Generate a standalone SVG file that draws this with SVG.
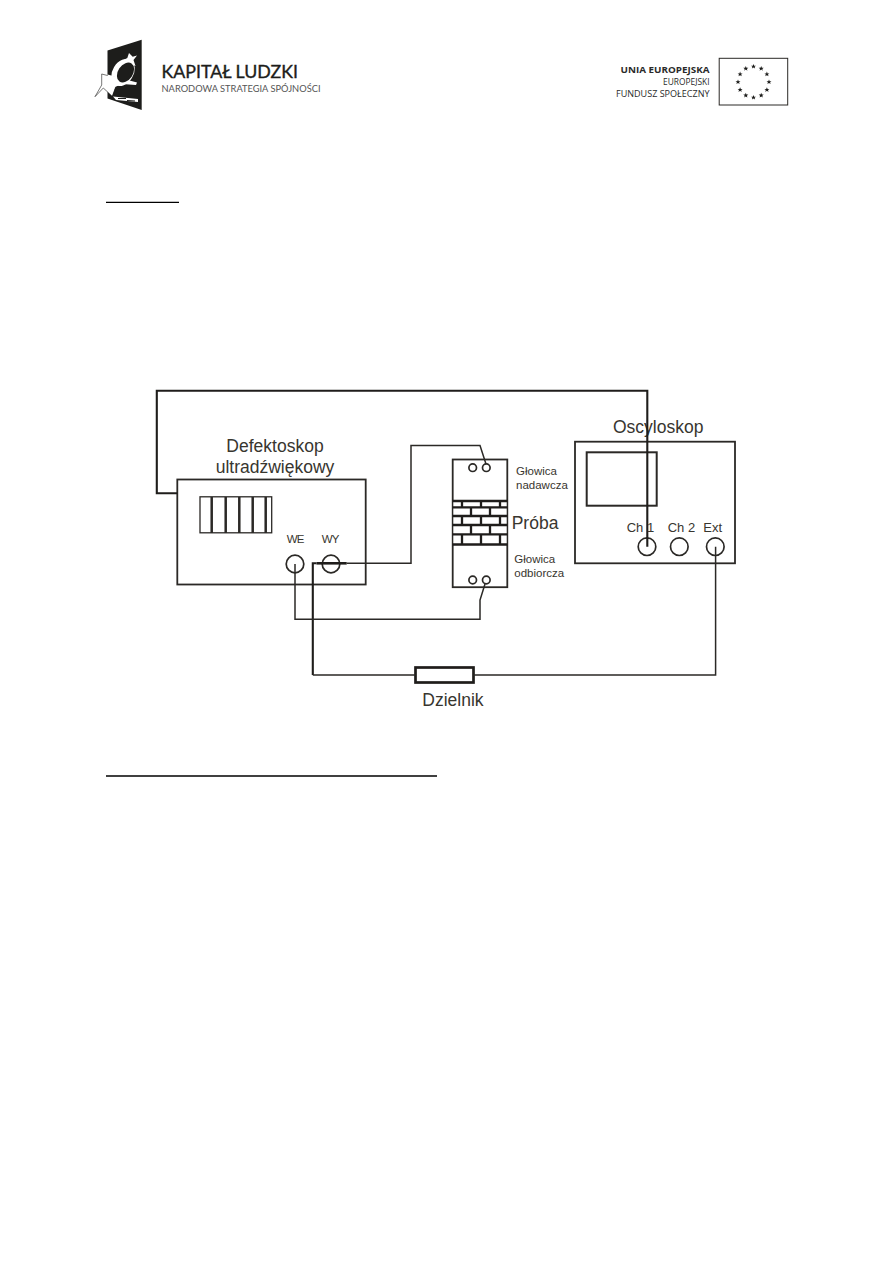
<svg xmlns="http://www.w3.org/2000/svg" width="893" height="1263" viewBox="0 0 893 1263">
  <style>
    .box { fill: #fff; stroke: #2b2926; stroke-width: 1.8; }
    .knob { fill: #fff; stroke: #2b2926; stroke-width: 1.7; }
    .wire { fill: none; stroke: #2b2926; stroke-width: 1.5; stroke-linejoin: miter; }
    .wire-bold { fill: none; stroke: #1f1d1b; stroke-width: 2.1; }
    .rule { stroke: #000; stroke-width: 1.3; }
    .brick { fill: none; stroke: #1f1d1b; stroke-width: 2.3; }
    text { font-family: "Liberation Sans", Arial, sans-serif; fill: #38362f; }
    .big { font-size: 17.5px; }
    .mid { font-size: 13px; }
    .small { font-size: 11.5px; }
    .port { font-size: 11.5px; letter-spacing: -0.8px; }
    .brand { font-family: Lato, "Open Sans", sans-serif; fill: #1d1d1b; }
    .eu { font-family: "Open Sans", "Noto Sans", sans-serif; fill: #2a2a2a; font-size: 8.4px; text-anchor: end; }
  </style>
  <defs>
    <polygon id="star" points="0,-2.6 0.7,-0.8 2.5,-0.8 1.1,0.3 1.6,2.1 0,1 -1.6,2.1 -1.1,0.3 -2.5,-0.8 -0.7,-0.8" fill="#1d1d1b"/>
  </defs>
  <rect width="893" height="1263" fill="#fff"/>

  <!-- programme emblem, top left -->
  <g id="logo-kapital">
    <polygon points="107.5,50.5 141.7,39.7 141.7,110 107.5,98.5" fill="#1d1d1b"/>
    <ellipse cx="123" cy="72.5" rx="10.5" ry="14.5" transform="rotate(32 123 72.5)" fill="#fff"/>
    <polygon points="101.7,74 113.3,77 123.3,80 116,85.5 112,96 103.3,88 95,96.7 101.7,85" fill="#fff" stroke="#1d1d1b" stroke-width="0.6"/>
    <polygon points="107.6,74.5 124,79 137,82.5 136,85 122,84 115,87 112,95.5 107.6,91" fill="#fff"/>
    <polygon points="118.5,62.5 127.3,58 129,53 132.7,56.7 137,55.5 133.5,60 135.5,66 129.3,63.5 123,66.5" fill="#fff"/>
    <ellipse cx="125.5" cy="72.5" rx="7.4" ry="10.8" transform="rotate(34 125.5 72.5)" fill="#1d1d1b"/>
    <polygon points="113,96.5 138,99 138,102 116,100" fill="#fff"/>
    <path d="M118,98.5 L126,98.5 M127,100.5 L135,101" stroke="#1d1d1b" stroke-width="1.1"/>
    <text class="brand" x="161.5" y="78.3" font-size="17.6" stroke="#1d1d1b" stroke-width="0.35" textLength="136.5" lengthAdjust="spacingAndGlyphs">KAPITAŁ LUDZKI</text>
    <text class="brand" x="161.5" y="92.3" font-size="9.6" style="fill:#555" textLength="159" lengthAdjust="spacingAndGlyphs">NARODOWA STRATEGIA SPÓJNOŚCI</text>
  </g>

  <!-- EU social fund emblem, top right -->
  <g id="logo-eu">
    <text class="eu" x="709.5" y="73.3" font-weight="700" textLength="89" lengthAdjust="spacingAndGlyphs">UNIA EUROPEJSKA</text>
    <text class="eu" x="709.5" y="85">EUROPEJSKI</text>
    <text class="eu" x="709.5" y="96.7" textLength="93.5" lengthAdjust="spacingAndGlyphs">FUNDUSZ SPOŁECZNY</text>
    <rect x="719.2" y="58.3" width="68.5" height="46.7" fill="#fff" stroke="#2b2926" stroke-width="1"/>
    <use href="#star" x="753.5" y="66.5"/>
    <use href="#star" x="761.2" y="68.6"/>
    <use href="#star" x="766.9" y="74.2"/>
    <use href="#star" x="769" y="82"/>
    <use href="#star" x="766.9" y="89.8"/>
    <use href="#star" x="761.2" y="95.4"/>
    <use href="#star" x="753.5" y="97.5"/>
    <use href="#star" x="745.8" y="95.4"/>
    <use href="#star" x="740.1" y="89.8"/>
    <use href="#star" x="738" y="82"/>
    <use href="#star" x="740.1" y="74.2"/>
    <use href="#star" x="745.8" y="68.6"/>
  </g>

  <!-- heading underlines -->
  <line class="rule" x1="106" y1="202.3" x2="179" y2="202.3"/>
  <line class="rule" x1="106" y1="776" x2="437" y2="776"/>

  <!-- flaw detector -->
  <g id="defektoskop">
    <rect class="box" x="177.3" y="479.5" width="188.4" height="105"/>
    <g fill="none" stroke="#2b2926">
      <rect x="200" y="496.8" width="71.7" height="36" stroke-width="1.3"/>
      <path d="M211.7,497V533 M225.7,497V533 M239.3,497V533 M252.7,497V533 M265.7,497V533" stroke-width="2.5"/>
    </g>
    <circle class="knob" cx="295" cy="564" r="8.8"/>
    <circle class="knob" cx="331" cy="564" r="8.8"/>
    <text class="big" x="275" y="451.7" text-anchor="middle">Defektoskop</text>
    <text class="big" x="275" y="473.3" text-anchor="middle">ultradźwiękowy</text>
    <text class="port" x="286.7" y="542.7">WE</text>
    <text class="port" x="321.7" y="542.7">WY</text>
  </g>

  <!-- transmitter probe, sample and receiver probe -->
  <g id="probka">
    <rect class="box" x="452.7" y="459.5" width="54.6" height="127.7"/>
    <rect x="453.5" y="501" width="53" height="43.5" fill="#fff"/>
    <path class="brick" d="M452.7,501H507.3 M452.7,507.3H507.3 M452.7,516H507.3 M452.7,525H507.3 M452.7,534.3H507.3 M452.7,544.5H507.3"/>
    <path class="brick" d="M462,501V507 M481,501V507 M500,501V507 M471,507V516 M490,507V516 M462,516V525 M481,516V525 M500,516V525 M471,525V534 M490,525V534 M462,534V544 M481,534V544 M500,534V544"/>
    <circle class="knob" cx="472.7" cy="467.7" r="3.8"/>
    <circle class="knob" cx="486.3" cy="467.7" r="3.8"/>
    <circle class="knob" cx="472.7" cy="580" r="3.8"/>
    <circle class="knob" cx="486.3" cy="580" r="3.8"/>
    <text class="small" x="516" y="475">Głowica</text>
    <text class="small" x="516" y="488.7">nadawcza</text>
    <text class="big" x="511.7" y="528.7">Próba</text>
    <text class="small" x="514.3" y="563.3">Głowica</text>
    <text class="small" x="514.3" y="576.7">odbiorcza</text>
  </g>

  <!-- oscilloscope -->
  <g id="oscyloskop">
    <rect class="box" x="575" y="441.7" width="160" height="121.6"/>
    <rect class="box" x="586.7" y="452.3" width="70" height="53.4" style="stroke-width:2"/>
    <text class="big" x="613" y="432.7">Oscyloskop</text>
    <text class="mid" x="626.7" y="531.7">Ch 1</text>
    <text class="mid" x="667.7" y="531.7">Ch 2</text>
    <text class="mid" x="703.3" y="531.7">Ext</text>
    <circle class="knob" cx="647" cy="546.7" r="8.8"/>
    <circle class="knob" cx="679.3" cy="546.7" r="8.8"/>
    <circle class="knob" cx="715.3" cy="546.7" r="8.8"/>
  </g>

  <!-- voltage divider -->
  <g id="dzielnik">
    <rect x="415.5" y="667.5" width="58" height="15" fill="#fff" stroke="#1f1d1b" stroke-width="2.7"/>
    <text class="big" x="422.3" y="705.7">Dzielnik</text>
  </g>

  <!-- wiring between the instruments -->
  <g id="connectors">
    <path class="wire-bold" d="M177.3,493.3H156.8V390.8H647.3V546.7"/>
    <path class="wire" d="M346.7,563.3H411V445.5H480L486,464"/>
    <path class="wire-bold" d="M316.5,563.3H346.7" style="stroke-width:2.6"/>
    <path class="wire-bold" d="M316.5,563.3H312.8V675"/>
    <path class="wire" d="M295,564V619.3H480V600L485,584"/>
    <path class="wire" d="M312.8,675H415.5M473.5,675H715.6V546.7"/>
  </g>
</svg>
